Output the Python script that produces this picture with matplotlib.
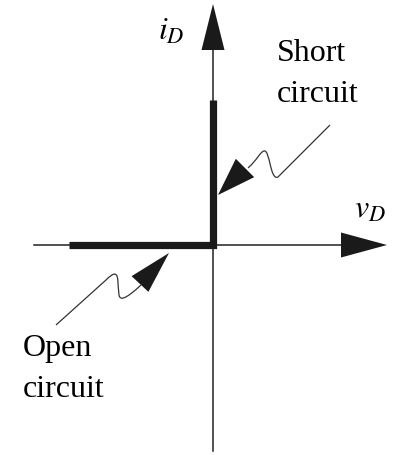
import matplotlib
matplotlib.use("Agg")
import matplotlib.pyplot as plt
import numpy as np
from matplotlib.path import Path
from matplotlib.patches import PathPatch, Polygon

plt.rcParams['font.family'] = ['Liberation Serif', 'DejaVu Serif']
plt.rcParams['mathtext.fontset'] = 'stix'

# ideal diode characteristic (data units)
v_D = [-1.44, 0.0, 0.0]
i_D = [0.0, 0.0, 1.45]

# axis extents
x_axis = [-1.79, 1.74]
y_axis = [-2.06, 2.41]

labels = ["Short\ncircuit", "Open\ncircuit"]


def px(x, y):
    # picture pixels -> data units (origin at the crossing of the axes)
    return ((x - 213) / 100.0, (246 - y) / 100.0)


def head(ax, tip, base, width):
    tip = np.array(tip)
    base = np.array(base)
    d = tip - base
    n = np.array([-d[1], d[0]]) / np.hypot(*d) * width / 2
    ax.add_patch(Polygon([tip, base + n, base - n], closed=True,
                         fc='#1a1a1a', ec='none', zorder=4))


fig = plt.figure(figsize=(3.96, 4.56), dpi=100)
ax = fig.add_axes([0, 0, 1, 1])
x0, y0 = px(0, 456)
x1, y1 = px(396, 0)
ax.set_xlim(x0, x1)
ax.set_ylim(y0, y1)
ax.axis('off')

# axes
ax.plot(x_axis[:1] + [x_axis[1] - 0.4], [0, 0], color='#222', lw=1.1)
ax.plot([0, 0], y_axis[:1] + [y_axis[1] - 0.4], color='#222', lw=1.1)
head(ax, (x_axis[1], 0), (x_axis[1] - 0.46, 0), 0.25)
head(ax, (0, y_axis[1]), (0, y_axis[1] - 0.46), 0.23)

# characteristic
ax.plot(v_D, i_D, color='#1a1a1a', lw=5.2, solid_joinstyle='miter',
        solid_capstyle='butt', zorder=3)

# squiggle pointers
M, L, C = Path.MOVETO, Path.LINETO, Path.CURVE4
sc = [px(330, 126), px(278, 178), px(270, 182), px(270, 150), px(264, 152),
      px(260, 153), px(258, 160), px(248, 169)]
ax.add_patch(PathPatch(Path(sc, [M, L, C, C, C, C, C, C]), fc='none',
                       ec='#333', lw=0.9))
head(ax, px(218, 196), px(245, 169), 0.26)

oc = [px(56, 326), px(106, 281), px(114, 273), px(118, 272), px(118, 285),
      px(119, 296), px(120, 302), px(126, 300), px(141, 286)]
ax.add_patch(PathPatch(Path(oc, [M, L, C, C, C, L, C, C, C]), fc='none',
                       ec='#333', lw=0.9))
head(ax, px(169, 254), px(140, 285), 0.23)

# labels
ax.text(*px(171, 32), r'$i_D$', fontsize=23, ha='center', va='center')
ax.text(*px(370, 210), r'$v_D$', fontsize=23, ha='center', va='center')
ax.text(*px(277, 74), labels[0], fontsize=23, ha='left', va='center',
        linespacing=1.55)
ax.text(*px(23, 369), labels[1], fontsize=23, ha='left', va='center',
        linespacing=1.55)

fig.savefig('out.png', dpi=100)
